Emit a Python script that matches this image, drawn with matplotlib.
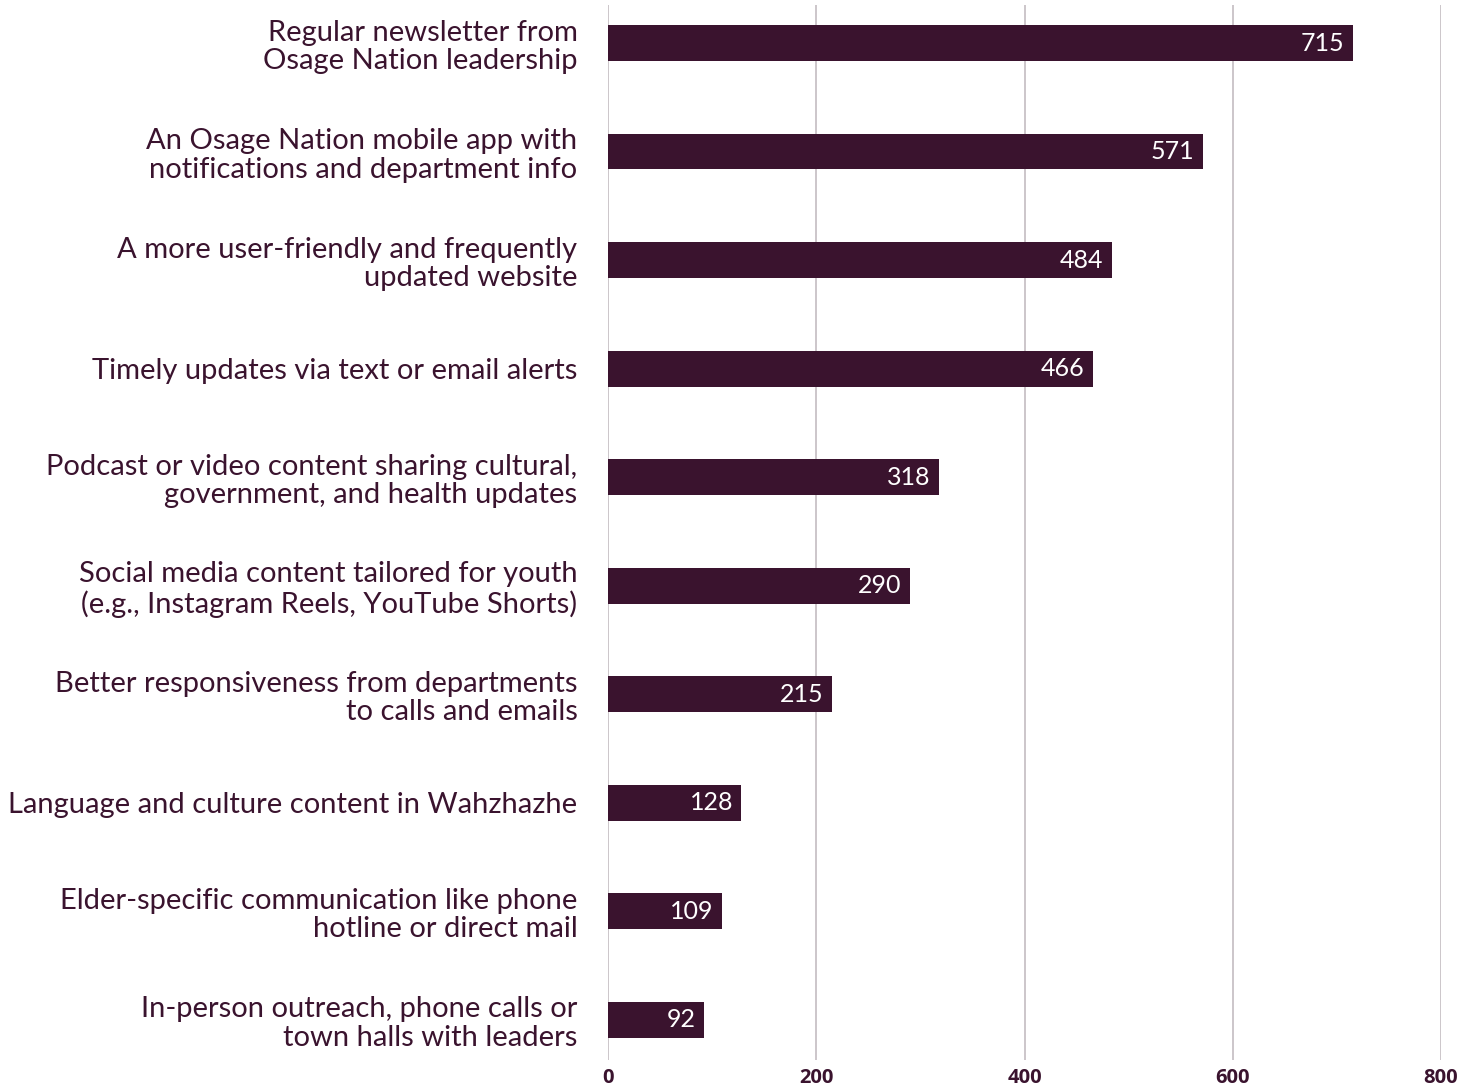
import numpy as np
import matplotlib.pyplot as plt

# survey answers, top to bottom as shown
labels = [
    'Regular newsletter from\nOsage Nation leadership',
    'An Osage Nation mobile app with\nnotifications and department info',
    'A more user-friendly and frequently\nupdated website',
    'Timely updates via text or email alerts',
    'Podcast or video content sharing cultural,\ngovernment, and health updates',
    'Social media content tailored for youth\n(e.g., Instagram Reels, YouTube Shorts)',
    'Better responsiveness from departments\nto calls and emails',
    'Language and culture content in Wahzhazhe',
    'Elder-specific communication like phone\nhotline or direct mail',
    'In-person outreach, phone calls or\ntown halls with leaders',
]
counts = [715, 571, 484, 466, 318, 290, 215, 128, 109, 92]
xticks = [0, 200, 400, 600, 800]

bar_color = '#3a132e'
text_color = '#3a132e'
grid_color = '#c4bcc1'

plt.rcParams['font.family'] = ['Lato', 'DejaVu Sans']

fig = plt.figure(figsize=(14.78, 10.91), dpi=100)
ax = fig.add_axes([0.4114, 0.0284, 0.5636, 0.9670])

y = np.arange(len(labels))
ax.barh(y, counts, height=0.33, color=bar_color, zorder=3)

for yi, v in zip(y, counts):
    ax.text(v - 8, yi, str(v), color='white', fontsize=18,
            ha='right', va='center', zorder=4)

ax.set_xlim(0, 800)
ax.set_ylim(len(labels) - 1 + 0.37, -0.35)
ax.set_xticks(xticks)
ax.set_xticklabels([str(t) for t in xticks], fontsize=14.5, fontweight='bold',
                   family=['Open Sans', 'DejaVu Sans'], color=text_color)
ax.set_yticks(y)
ax.set_yticklabels(labels, fontsize=21, color=text_color, linespacing=1.12)
ax.tick_params(axis='both', length=0)
ax.tick_params(axis='y', pad=22)
ax.tick_params(axis='x', pad=6)

ax.grid(axis='x', color=grid_color, linewidth=1.2, zorder=0)
for s in ax.spines.values():
    s.set_visible(False)

fig.savefig('out.png', dpi=100)
